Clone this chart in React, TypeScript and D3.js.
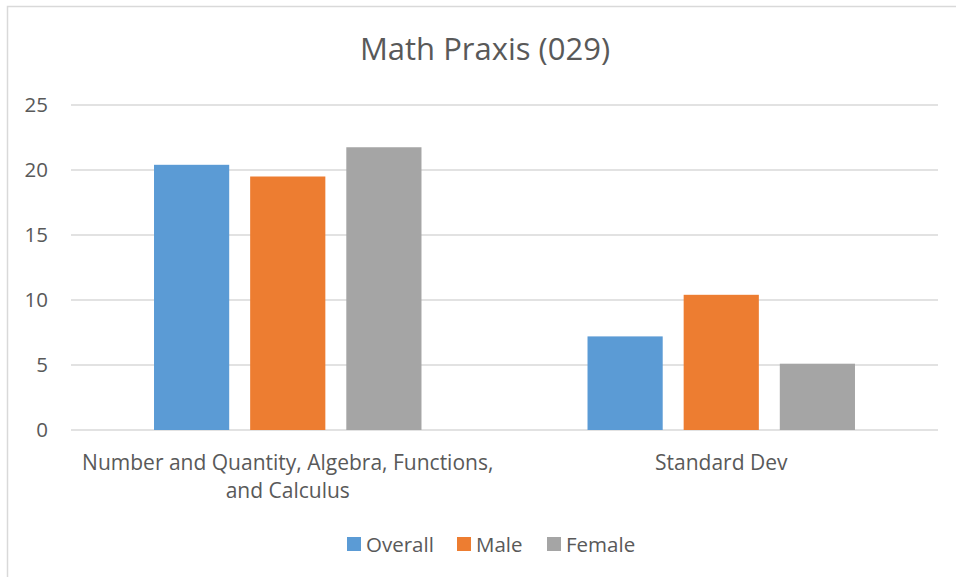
import { useEffect, useRef } from 'react';
import * as d3 from 'd3';

// chart data
const categories = ['Number and Quantity, Algebra, Functions, and Calculus', 'Standard Dev'];
const categoryLines = [['Number and Quantity, Algebra, Functions,', 'and Calculus'], ['Standard Dev']];
const seriesNames = ['Overall', 'Male', 'Female'];
const overall = [20.4, 7.2];
const male = [19.5, 10.4];
const female = [21.75, 5.1];
const yTicks = [0, 5, 10, 15, 20, 25];

const colors = ['#5B9BD5', '#ED7D31', '#A5A5A5'];

export default function App() {
    const chartRef = useRef<SVGSVGElement>(null);

    useEffect(() => {
        document.body.style.margin = '0';
        const width = 956;
        const height = 577;
        const font = "'Open Sans', sans-serif";
        const textColor = '#595959';
        const values = [overall, male, female];

        const svg = d3.select(chartRef.current)
            .attr('width', width)
            .attr('height', height);
        svg.selectAll('*').remove();

        svg.append('rect')
            .attr('width', width)
            .attr('height', height)
            .attr('fill', '#ffffff');

        // outer chart border (runs off the right and bottom)
        svg.append('rect')
            .attr('x', 7.5)
            .attr('y', 6.5)
            .attr('width', width + 20)
            .attr('height', height + 20)
            .attr('fill', 'none')
            .attr('stroke', '#D9D9D9')
            .attr('stroke-width', 1.5);

        const y = d3.scaleLinear().domain([0, 25]).range([430, 105]);
        const x0 = d3.scaleBand().domain(categories).range([71, 938]).paddingInner(0.383).paddingOuter(0.1915);
        const x1 = d3.scaleBand().domain(seriesNames).range([0, x0.bandwidth()]).paddingInner(0.218).paddingOuter(0);

        // gridlines
        svg.append('g')
            .selectAll('line')
            .data(yTicks)
            .enter()
            .append('line')
            .attr('x1', 71)
            .attr('x2', 938)
            .attr('y1', d => y(d))
            .attr('y2', d => y(d))
            .attr('stroke', '#D9D9D9')
            .attr('stroke-width', 1.5);

        // y tick labels
        svg.append('g')
            .selectAll('text')
            .data(yTicks)
            .enter()
            .append('text')
            .attr('x', 48)
            .attr('y', d => y(d))
            .attr('dy', '0.35em')
            .attr('text-anchor', 'end')
            .attr('font-family', font)
            .attr('font-size', 20.5)
            .attr('fill', textColor)
            .text(d => d);

        // bars
        seriesNames.forEach((s, si) => {
            svg.append('g')
                .selectAll('rect')
                .data(categories)
                .enter()
                .append('rect')
                .attr('x', (c) => (x0(c) ?? 0) + (x1(s) ?? 0))
                .attr('y', (c, i) => y(values[si][i]))
                .attr('width', x1.bandwidth())
                .attr('height', (c, i) => y(0) - y(values[si][i]))
                .attr('fill', colors[si]);
        });

        // category labels
        categories.forEach((c, i) => {
            const t = svg.append('text')
                .attr('x', (x0(c) ?? 0) + x0.bandwidth() / 2)
                .attr('y', 470)
                .attr('text-anchor', 'middle')
                .attr('font-family', font)
                .attr('font-size', 21)
                .attr('fill', textColor);
            categoryLines[i].forEach((line, li) => {
                t.append('tspan')
                    .attr('x', (x0(c) ?? 0) + x0.bandwidth() / 2)
                    .attr('dy', li === 0 ? 0 : 27.5)
                    .text(line);
            });
        });

        // title
        svg.append('text')
            .attr('x', 485)
            .attr('y', 60)
            .attr('text-anchor', 'middle')
            .attr('font-family', font)
            .attr('font-size', 31)
            .attr('fill', textColor)
            .text('Math Praxis (029)');

        // legend
        const legendX = [347, 457, 547];
        const legend = svg.append('g')
            .selectAll('g')
            .data(seriesNames)
            .enter()
            .append('g')
            .attr('transform', (d, i) => `translate(${legendX[i]},537)`);
        legend.append('rect')
            .attr('width', 14)
            .attr('height', 14)
            .attr('fill', (d, i) => colors[i]);
        legend.append('text')
            .attr('x', 19)
            .attr('y', 14.5)
            .attr('font-family', font)
            .attr('font-size', 20.5)
            .attr('fill', textColor)
            .text(d => d);
    }, []);

    return (
        <div style={{ position: 'absolute', left: 0, top: 0 }}>
            <svg ref={chartRef} style={{ display: 'block' }}></svg>
        </div>
    );
}
